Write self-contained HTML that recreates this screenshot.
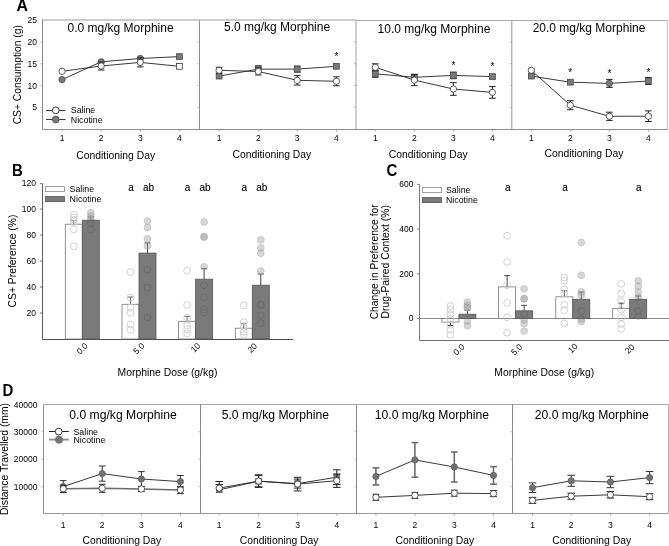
<!DOCTYPE html>
<html><head><meta charset="utf-8"><style>
html,body{margin:0;padding:0;background:#fff;width:669px;height:546px;overflow:hidden}
svg{display:block;will-change:transform}
text{font-family:"Liberation Sans", sans-serif}
</style></head><body>
<svg width="669" height="546" viewBox="0 0 669 546" font-family='"Liberation Sans", sans-serif'>
<rect width="669" height="546" fill="#fff"/>
<line x1="42.00" y1="20.00" x2="356.00" y2="20.00" stroke="#9a9a9a" stroke-width="1" />
<line x1="356.00" y1="20.50" x2="668.00" y2="20.50" stroke="#ababab" stroke-width="1" />
<line x1="42.50" y1="129.50" x2="668.00" y2="129.50" stroke="#8e8e8e" stroke-width="1" />
<line x1="42.50" y1="19.50" x2="42.50" y2="129.50" stroke="#858585" stroke-width="1" />
<line x1="199.50" y1="20.50" x2="199.50" y2="129.50" stroke="#8c8c8c" stroke-width="1" />
<line x1="356.00" y1="20.50" x2="356.00" y2="129.50" stroke="#a8a8a8" stroke-width="1.1" />
<line x1="511.80" y1="20.50" x2="511.80" y2="129.50" stroke="#9c9c9c" stroke-width="1.1" />
<line x1="667.50" y1="20.00" x2="667.50" y2="129.50" stroke="#cacaca" stroke-width="1.2" />
<line x1="40.50" y1="107.25" x2="42.50" y2="107.25" stroke="#aaa" stroke-width="0.8" />
<line x1="40.50" y1="85.50" x2="42.50" y2="85.50" stroke="#aaa" stroke-width="0.8" />
<line x1="40.50" y1="63.75" x2="42.50" y2="63.75" stroke="#aaa" stroke-width="0.8" />
<line x1="40.50" y1="42.00" x2="42.50" y2="42.00" stroke="#aaa" stroke-width="0.8" />
<line x1="197.50" y1="107.25" x2="199.50" y2="107.25" stroke="#aaa" stroke-width="0.8" />
<line x1="197.50" y1="85.50" x2="199.50" y2="85.50" stroke="#aaa" stroke-width="0.8" />
<line x1="197.50" y1="63.75" x2="199.50" y2="63.75" stroke="#aaa" stroke-width="0.8" />
<line x1="197.50" y1="42.00" x2="199.50" y2="42.00" stroke="#aaa" stroke-width="0.8" />
<line x1="354.00" y1="107.25" x2="356.00" y2="107.25" stroke="#aaa" stroke-width="0.8" />
<line x1="354.00" y1="85.50" x2="356.00" y2="85.50" stroke="#aaa" stroke-width="0.8" />
<line x1="354.00" y1="63.75" x2="356.00" y2="63.75" stroke="#aaa" stroke-width="0.8" />
<line x1="354.00" y1="42.00" x2="356.00" y2="42.00" stroke="#aaa" stroke-width="0.8" />
<line x1="509.80" y1="107.25" x2="511.80" y2="107.25" stroke="#aaa" stroke-width="0.8" />
<line x1="509.80" y1="85.50" x2="511.80" y2="85.50" stroke="#aaa" stroke-width="0.8" />
<line x1="509.80" y1="63.75" x2="511.80" y2="63.75" stroke="#aaa" stroke-width="0.8" />
<line x1="509.80" y1="42.00" x2="511.80" y2="42.00" stroke="#aaa" stroke-width="0.8" />
<line x1="62.00" y1="129.50" x2="62.00" y2="131.50" stroke="#8a8a8a" stroke-width="0.8" />
<text x="62.00" y="141.20" font-size="8.5" text-anchor="middle" font-weight="normal" fill="#000" >1</text>
<line x1="101.20" y1="129.50" x2="101.20" y2="131.50" stroke="#8a8a8a" stroke-width="0.8" />
<text x="101.20" y="141.20" font-size="8.5" text-anchor="middle" font-weight="normal" fill="#000" >2</text>
<line x1="140.30" y1="129.50" x2="140.30" y2="131.50" stroke="#8a8a8a" stroke-width="0.8" />
<text x="140.30" y="141.20" font-size="8.5" text-anchor="middle" font-weight="normal" fill="#000" >3</text>
<line x1="179.40" y1="129.50" x2="179.40" y2="131.50" stroke="#8a8a8a" stroke-width="0.8" />
<text x="179.40" y="141.20" font-size="8.5" text-anchor="middle" font-weight="normal" fill="#000" >4</text>
<text x="115.70" y="158.70" font-size="10.35" text-anchor="middle" font-weight="normal" fill="#000" >Conditioning Day</text>
<text x="120.60" y="31.80" font-size="12" text-anchor="middle" font-weight="normal" fill="#000" >0.0 mg/kg Morphine</text>
<line x1="219.10" y1="129.50" x2="219.10" y2="131.50" stroke="#8a8a8a" stroke-width="0.8" />
<text x="219.10" y="141.20" font-size="8.5" text-anchor="middle" font-weight="normal" fill="#000" >1</text>
<line x1="258.30" y1="129.50" x2="258.30" y2="131.50" stroke="#8a8a8a" stroke-width="0.8" />
<text x="258.30" y="141.20" font-size="8.5" text-anchor="middle" font-weight="normal" fill="#000" >2</text>
<line x1="297.20" y1="129.50" x2="297.20" y2="131.50" stroke="#8a8a8a" stroke-width="0.8" />
<text x="297.20" y="141.20" font-size="8.5" text-anchor="middle" font-weight="normal" fill="#000" >3</text>
<line x1="336.40" y1="129.50" x2="336.40" y2="131.50" stroke="#8a8a8a" stroke-width="0.8" />
<text x="336.40" y="141.20" font-size="8.5" text-anchor="middle" font-weight="normal" fill="#000" >4</text>
<text x="271.85" y="157.70" font-size="10.35" text-anchor="middle" font-weight="normal" fill="#000" >Conditioning Day</text>
<text x="277.05" y="31.30" font-size="12" text-anchor="middle" font-weight="normal" fill="#000" >5.0 mg/kg Morphine</text>
<line x1="375.30" y1="129.50" x2="375.30" y2="131.50" stroke="#8a8a8a" stroke-width="0.8" />
<text x="375.30" y="141.20" font-size="8.5" text-anchor="middle" font-weight="normal" fill="#000" >1</text>
<line x1="414.30" y1="129.50" x2="414.30" y2="131.50" stroke="#8a8a8a" stroke-width="0.8" />
<text x="414.30" y="141.20" font-size="8.5" text-anchor="middle" font-weight="normal" fill="#000" >2</text>
<line x1="453.40" y1="129.50" x2="453.40" y2="131.50" stroke="#8a8a8a" stroke-width="0.8" />
<text x="453.40" y="141.20" font-size="8.5" text-anchor="middle" font-weight="normal" fill="#000" >3</text>
<line x1="492.40" y1="129.50" x2="492.40" y2="131.50" stroke="#8a8a8a" stroke-width="0.8" />
<text x="492.40" y="141.20" font-size="8.5" text-anchor="middle" font-weight="normal" fill="#000" >4</text>
<text x="428.25" y="157.80" font-size="10.35" text-anchor="middle" font-weight="normal" fill="#000" >Conditioning Day</text>
<text x="433.95" y="32.60" font-size="12" text-anchor="middle" font-weight="normal" fill="#000" >10.0 mg/kg Morphine</text>
<line x1="531.30" y1="129.50" x2="531.30" y2="131.50" stroke="#8a8a8a" stroke-width="0.8" />
<text x="531.30" y="141.20" font-size="8.5" text-anchor="middle" font-weight="normal" fill="#000" >1</text>
<line x1="570.30" y1="129.50" x2="570.30" y2="131.50" stroke="#8a8a8a" stroke-width="0.8" />
<text x="570.30" y="141.20" font-size="8.5" text-anchor="middle" font-weight="normal" fill="#000" >2</text>
<line x1="609.40" y1="129.50" x2="609.40" y2="131.50" stroke="#8a8a8a" stroke-width="0.8" />
<text x="609.40" y="141.20" font-size="8.5" text-anchor="middle" font-weight="normal" fill="#000" >3</text>
<line x1="648.40" y1="129.50" x2="648.40" y2="131.50" stroke="#8a8a8a" stroke-width="0.8" />
<text x="648.40" y="141.20" font-size="8.5" text-anchor="middle" font-weight="normal" fill="#000" >4</text>
<text x="583.95" y="157.10" font-size="10.35" text-anchor="middle" font-weight="normal" fill="#000" >Conditioning Day</text>
<text x="589.05" y="32.10" font-size="12" text-anchor="middle" font-weight="normal" fill="#000" >20.0 mg/kg Morphine</text>
<text x="37.00" y="23.35" font-size="8.5" text-anchor="end" font-weight="normal" fill="#000" >25</text>
<text x="37.00" y="45.10" font-size="8.5" text-anchor="end" font-weight="normal" fill="#000" >20</text>
<text x="37.00" y="66.85" font-size="8.5" text-anchor="end" font-weight="normal" fill="#000" >15</text>
<text x="37.00" y="88.60" font-size="8.5" text-anchor="end" font-weight="normal" fill="#000" >10</text>
<text x="37.00" y="110.35" font-size="8.5" text-anchor="end" font-weight="normal" fill="#000" >5</text>
<text x="21.30" y="74.70" font-size="10.3" text-anchor="middle" font-weight="normal" fill="#000" transform="rotate(-90 21.3 74.7)">CS+ Consumption (g)</text>
<text transform="translate(16.5,10.7) scale(0.96,1)" font-size="16.5" font-weight="bold" fill="#000">A</text>
<polyline points="62.00,79.60 101.20,61.80 140.30,58.50 179.40,56.60" fill="none" stroke="#222" stroke-width="0.9"/>
<circle cx="62.00" cy="79.60" r="3.15" fill="#7a7a7a" stroke="#4a4a4a" stroke-width="0.8" />
<circle cx="101.20" cy="61.80" r="3.15" fill="#7a7a7a" stroke="#4a4a4a" stroke-width="0.8" />
<circle cx="140.30" cy="58.50" r="3.15" fill="#7a7a7a" stroke="#4a4a4a" stroke-width="0.8" />
<rect x="176.50" y="53.70" width="5.80" height="5.80" fill="#7a7a7a" stroke="#4a4a4a" stroke-width="0.8"/>
<polyline points="62.00,71.30 101.20,66.00 140.30,62.40 179.40,66.30" fill="none" stroke="#222" stroke-width="0.9"/>
<line x1="101.20" y1="62.00" x2="101.20" y2="66.00" stroke="#222" stroke-width="1.0" />
<line x1="97.90" y1="62.00" x2="104.50" y2="62.00" stroke="#222" stroke-width="1.0" />
<line x1="101.20" y1="66.00" x2="101.20" y2="70.00" stroke="#222" stroke-width="1.0" />
<line x1="97.90" y1="70.00" x2="104.50" y2="70.00" stroke="#222" stroke-width="1.0" />
<line x1="140.30" y1="57.90" x2="140.30" y2="62.40" stroke="#222" stroke-width="1.0" />
<line x1="137.00" y1="57.90" x2="143.60" y2="57.90" stroke="#222" stroke-width="1.0" />
<line x1="140.30" y1="62.40" x2="140.30" y2="66.90" stroke="#222" stroke-width="1.0" />
<line x1="137.00" y1="66.90" x2="143.60" y2="66.90" stroke="#222" stroke-width="1.0" />
<circle cx="62.00" cy="71.30" r="3.15" fill="#fff" stroke="#2a2a2a" stroke-width="0.75" />
<circle cx="101.20" cy="66.00" r="3.15" fill="#fff" stroke="#2a2a2a" stroke-width="0.75" />
<circle cx="140.30" cy="62.40" r="3.15" fill="#fff" stroke="#2a2a2a" stroke-width="0.75" />
<rect x="176.50" y="63.40" width="5.80" height="5.80" fill="#fff" stroke="#2a2a2a" stroke-width="0.75"/>
<polyline points="219.10,76.10 258.30,69.10 297.20,69.10 336.40,66.30" fill="none" stroke="#222" stroke-width="0.9"/>
<line x1="258.30" y1="65.80" x2="258.30" y2="69.10" stroke="#222" stroke-width="1.0" />
<line x1="255.00" y1="65.80" x2="261.60" y2="65.80" stroke="#222" stroke-width="1.0" />
<line x1="258.30" y1="69.10" x2="258.30" y2="72.40" stroke="#222" stroke-width="1.0" />
<line x1="255.00" y1="72.40" x2="261.60" y2="72.40" stroke="#222" stroke-width="1.0" />
<line x1="297.20" y1="66.10" x2="297.20" y2="69.10" stroke="#222" stroke-width="1.0" />
<line x1="293.90" y1="66.10" x2="300.50" y2="66.10" stroke="#222" stroke-width="1.0" />
<line x1="297.20" y1="69.10" x2="297.20" y2="72.10" stroke="#222" stroke-width="1.0" />
<line x1="293.90" y1="72.10" x2="300.50" y2="72.10" stroke="#222" stroke-width="1.0" />
<rect x="216.20" y="73.20" width="5.80" height="5.80" fill="#7a7a7a" stroke="#4a4a4a" stroke-width="0.8"/>
<rect x="255.40" y="66.20" width="5.80" height="5.80" fill="#7a7a7a" stroke="#4a4a4a" stroke-width="0.8"/>
<rect x="294.30" y="66.20" width="5.80" height="5.80" fill="#7a7a7a" stroke="#4a4a4a" stroke-width="0.8"/>
<rect x="333.50" y="63.40" width="5.80" height="5.80" fill="#7a7a7a" stroke="#4a4a4a" stroke-width="0.8"/>
<polyline points="219.10,70.30 258.30,71.50 297.20,80.30 336.40,81.30" fill="none" stroke="#222" stroke-width="0.9"/>
<line x1="219.10" y1="67.30" x2="219.10" y2="70.30" stroke="#222" stroke-width="1.0" />
<line x1="215.80" y1="67.30" x2="222.40" y2="67.30" stroke="#222" stroke-width="1.0" />
<line x1="219.10" y1="70.30" x2="219.10" y2="73.30" stroke="#222" stroke-width="1.0" />
<line x1="215.80" y1="73.30" x2="222.40" y2="73.30" stroke="#222" stroke-width="1.0" />
<line x1="258.30" y1="68.00" x2="258.30" y2="71.50" stroke="#222" stroke-width="1.0" />
<line x1="255.00" y1="68.00" x2="261.60" y2="68.00" stroke="#222" stroke-width="1.0" />
<line x1="258.30" y1="71.50" x2="258.30" y2="75.00" stroke="#222" stroke-width="1.0" />
<line x1="255.00" y1="75.00" x2="261.60" y2="75.00" stroke="#222" stroke-width="1.0" />
<line x1="297.20" y1="75.60" x2="297.20" y2="80.30" stroke="#222" stroke-width="1.0" />
<line x1="293.90" y1="75.60" x2="300.50" y2="75.60" stroke="#222" stroke-width="1.0" />
<line x1="297.20" y1="80.30" x2="297.20" y2="85.00" stroke="#222" stroke-width="1.0" />
<line x1="293.90" y1="85.00" x2="300.50" y2="85.00" stroke="#222" stroke-width="1.0" />
<line x1="336.40" y1="76.80" x2="336.40" y2="81.30" stroke="#222" stroke-width="1.0" />
<line x1="333.10" y1="76.80" x2="339.70" y2="76.80" stroke="#222" stroke-width="1.0" />
<line x1="336.40" y1="81.30" x2="336.40" y2="85.80" stroke="#222" stroke-width="1.0" />
<line x1="333.10" y1="85.80" x2="339.70" y2="85.80" stroke="#222" stroke-width="1.0" />
<circle cx="219.10" cy="70.30" r="3.15" fill="#fff" stroke="#2a2a2a" stroke-width="0.75" />
<circle cx="258.30" cy="71.50" r="3.15" fill="#fff" stroke="#2a2a2a" stroke-width="0.75" />
<circle cx="297.20" cy="80.30" r="3.15" fill="#fff" stroke="#2a2a2a" stroke-width="0.75" />
<circle cx="336.40" cy="81.30" r="3.15" fill="#fff" stroke="#2a2a2a" stroke-width="0.75" />
<polyline points="375.30,73.80 414.30,77.30 453.40,75.40 492.40,76.60" fill="none" stroke="#222" stroke-width="0.9"/>
<line x1="375.30" y1="70.30" x2="375.30" y2="73.80" stroke="#222" stroke-width="1.0" />
<line x1="372.00" y1="70.30" x2="378.60" y2="70.30" stroke="#222" stroke-width="1.0" />
<line x1="375.30" y1="73.80" x2="375.30" y2="77.30" stroke="#222" stroke-width="1.0" />
<line x1="372.00" y1="77.30" x2="378.60" y2="77.30" stroke="#222" stroke-width="1.0" />
<line x1="414.30" y1="74.30" x2="414.30" y2="77.30" stroke="#222" stroke-width="1.0" />
<line x1="411.00" y1="74.30" x2="417.60" y2="74.30" stroke="#222" stroke-width="1.0" />
<line x1="414.30" y1="77.30" x2="414.30" y2="80.30" stroke="#222" stroke-width="1.0" />
<line x1="411.00" y1="80.30" x2="417.60" y2="80.30" stroke="#222" stroke-width="1.0" />
<line x1="453.40" y1="72.10" x2="453.40" y2="75.40" stroke="#222" stroke-width="1.0" />
<line x1="450.10" y1="72.10" x2="456.70" y2="72.10" stroke="#222" stroke-width="1.0" />
<line x1="453.40" y1="75.40" x2="453.40" y2="78.70" stroke="#222" stroke-width="1.0" />
<line x1="450.10" y1="78.70" x2="456.70" y2="78.70" stroke="#222" stroke-width="1.0" />
<line x1="492.40" y1="74.60" x2="492.40" y2="76.60" stroke="#222" stroke-width="1.0" />
<line x1="489.10" y1="74.60" x2="495.70" y2="74.60" stroke="#222" stroke-width="1.0" />
<line x1="492.40" y1="76.60" x2="492.40" y2="78.60" stroke="#222" stroke-width="1.0" />
<line x1="489.10" y1="78.60" x2="495.70" y2="78.60" stroke="#222" stroke-width="1.0" />
<rect x="372.40" y="70.90" width="5.80" height="5.80" fill="#7a7a7a" stroke="#4a4a4a" stroke-width="0.8"/>
<rect x="411.40" y="74.40" width="5.80" height="5.80" fill="#7a7a7a" stroke="#4a4a4a" stroke-width="0.8"/>
<rect x="450.50" y="72.50" width="5.80" height="5.80" fill="#7a7a7a" stroke="#4a4a4a" stroke-width="0.8"/>
<rect x="489.50" y="73.70" width="5.80" height="5.80" fill="#7a7a7a" stroke="#4a4a4a" stroke-width="0.8"/>
<polyline points="375.30,67.30 414.30,80.10 453.40,89.00 492.40,92.40" fill="none" stroke="#222" stroke-width="0.9"/>
<line x1="375.30" y1="63.80" x2="375.30" y2="67.30" stroke="#222" stroke-width="1.0" />
<line x1="372.00" y1="63.80" x2="378.60" y2="63.80" stroke="#222" stroke-width="1.0" />
<line x1="375.30" y1="67.30" x2="375.30" y2="70.80" stroke="#222" stroke-width="1.0" />
<line x1="372.00" y1="70.80" x2="378.60" y2="70.80" stroke="#222" stroke-width="1.0" />
<line x1="414.30" y1="74.60" x2="414.30" y2="80.10" stroke="#222" stroke-width="1.0" />
<line x1="411.00" y1="74.60" x2="417.60" y2="74.60" stroke="#222" stroke-width="1.0" />
<line x1="414.30" y1="80.10" x2="414.30" y2="85.60" stroke="#222" stroke-width="1.0" />
<line x1="411.00" y1="85.60" x2="417.60" y2="85.60" stroke="#222" stroke-width="1.0" />
<line x1="453.40" y1="82.70" x2="453.40" y2="89.00" stroke="#222" stroke-width="1.0" />
<line x1="450.10" y1="82.70" x2="456.70" y2="82.70" stroke="#222" stroke-width="1.0" />
<line x1="453.40" y1="89.00" x2="453.40" y2="95.30" stroke="#222" stroke-width="1.0" />
<line x1="450.10" y1="95.30" x2="456.70" y2="95.30" stroke="#222" stroke-width="1.0" />
<line x1="492.40" y1="86.60" x2="492.40" y2="92.40" stroke="#222" stroke-width="1.0" />
<line x1="489.10" y1="86.60" x2="495.70" y2="86.60" stroke="#222" stroke-width="1.0" />
<line x1="492.40" y1="92.40" x2="492.40" y2="98.20" stroke="#222" stroke-width="1.0" />
<line x1="489.10" y1="98.20" x2="495.70" y2="98.20" stroke="#222" stroke-width="1.0" />
<circle cx="375.30" cy="67.30" r="3.15" fill="#fff" stroke="#2a2a2a" stroke-width="0.75" />
<circle cx="414.30" cy="80.10" r="3.15" fill="#fff" stroke="#2a2a2a" stroke-width="0.75" />
<circle cx="453.40" cy="89.00" r="3.15" fill="#fff" stroke="#2a2a2a" stroke-width="0.75" />
<circle cx="492.40" cy="92.40" r="3.15" fill="#fff" stroke="#2a2a2a" stroke-width="0.75" />
<polyline points="531.30,76.10 570.30,82.20 609.40,83.40 648.40,81.00" fill="none" stroke="#222" stroke-width="0.9"/>
<line x1="531.30" y1="74.60" x2="531.30" y2="76.10" stroke="#222" stroke-width="1.0" />
<line x1="528.00" y1="74.60" x2="534.60" y2="74.60" stroke="#222" stroke-width="1.0" />
<line x1="531.30" y1="76.10" x2="531.30" y2="77.60" stroke="#222" stroke-width="1.0" />
<line x1="528.00" y1="77.60" x2="534.60" y2="77.60" stroke="#222" stroke-width="1.0" />
<line x1="570.30" y1="80.20" x2="570.30" y2="82.20" stroke="#222" stroke-width="1.0" />
<line x1="567.00" y1="80.20" x2="573.60" y2="80.20" stroke="#222" stroke-width="1.0" />
<line x1="570.30" y1="82.20" x2="570.30" y2="84.20" stroke="#222" stroke-width="1.0" />
<line x1="567.00" y1="84.20" x2="573.60" y2="84.20" stroke="#222" stroke-width="1.0" />
<line x1="609.40" y1="79.40" x2="609.40" y2="83.40" stroke="#222" stroke-width="1.0" />
<line x1="606.10" y1="79.40" x2="612.70" y2="79.40" stroke="#222" stroke-width="1.0" />
<line x1="609.40" y1="83.40" x2="609.40" y2="87.40" stroke="#222" stroke-width="1.0" />
<line x1="606.10" y1="87.40" x2="612.70" y2="87.40" stroke="#222" stroke-width="1.0" />
<line x1="648.40" y1="77.50" x2="648.40" y2="81.00" stroke="#222" stroke-width="1.0" />
<line x1="645.10" y1="77.50" x2="651.70" y2="77.50" stroke="#222" stroke-width="1.0" />
<line x1="648.40" y1="81.00" x2="648.40" y2="84.50" stroke="#222" stroke-width="1.0" />
<line x1="645.10" y1="84.50" x2="651.70" y2="84.50" stroke="#222" stroke-width="1.0" />
<rect x="528.40" y="73.20" width="5.80" height="5.80" fill="#7a7a7a" stroke="#4a4a4a" stroke-width="0.8"/>
<rect x="567.40" y="79.30" width="5.80" height="5.80" fill="#7a7a7a" stroke="#4a4a4a" stroke-width="0.8"/>
<circle cx="609.40" cy="83.40" r="3.15" fill="#7a7a7a" stroke="#4a4a4a" stroke-width="0.8" />
<rect x="645.50" y="78.10" width="5.80" height="5.80" fill="#7a7a7a" stroke="#4a4a4a" stroke-width="0.8"/>
<polyline points="531.30,70.30 570.30,105.20 609.40,116.30 648.40,116.20" fill="none" stroke="#222" stroke-width="0.9"/>
<line x1="531.30" y1="69.30" x2="531.30" y2="70.30" stroke="#222" stroke-width="1.0" />
<line x1="528.00" y1="69.30" x2="534.60" y2="69.30" stroke="#222" stroke-width="1.0" />
<line x1="531.30" y1="70.30" x2="531.30" y2="71.30" stroke="#222" stroke-width="1.0" />
<line x1="528.00" y1="71.30" x2="534.60" y2="71.30" stroke="#222" stroke-width="1.0" />
<line x1="570.30" y1="100.70" x2="570.30" y2="105.20" stroke="#222" stroke-width="1.0" />
<line x1="567.00" y1="100.70" x2="573.60" y2="100.70" stroke="#222" stroke-width="1.0" />
<line x1="570.30" y1="105.20" x2="570.30" y2="109.70" stroke="#222" stroke-width="1.0" />
<line x1="567.00" y1="109.70" x2="573.60" y2="109.70" stroke="#222" stroke-width="1.0" />
<line x1="609.40" y1="112.20" x2="609.40" y2="116.30" stroke="#222" stroke-width="1.0" />
<line x1="606.10" y1="112.20" x2="612.70" y2="112.20" stroke="#222" stroke-width="1.0" />
<line x1="609.40" y1="116.30" x2="609.40" y2="120.40" stroke="#222" stroke-width="1.0" />
<line x1="606.10" y1="120.40" x2="612.70" y2="120.40" stroke="#222" stroke-width="1.0" />
<line x1="648.40" y1="110.90" x2="648.40" y2="116.20" stroke="#222" stroke-width="1.0" />
<line x1="645.10" y1="110.90" x2="651.70" y2="110.90" stroke="#222" stroke-width="1.0" />
<line x1="648.40" y1="116.20" x2="648.40" y2="121.50" stroke="#222" stroke-width="1.0" />
<line x1="645.10" y1="121.50" x2="651.70" y2="121.50" stroke="#222" stroke-width="1.0" />
<circle cx="531.30" cy="70.30" r="3.15" fill="#fff" stroke="#2a2a2a" stroke-width="0.75" />
<circle cx="570.30" cy="105.20" r="3.15" fill="#fff" stroke="#2a2a2a" stroke-width="0.75" />
<circle cx="609.40" cy="116.30" r="3.15" fill="#fff" stroke="#2a2a2a" stroke-width="0.75" />
<circle cx="648.40" cy="116.20" r="3.15" fill="#fff" stroke="#2a2a2a" stroke-width="0.75" />
<text x="336.40" y="60.00" font-size="10" text-anchor="middle" font-weight="normal" fill="#000" >*</text>
<text x="453.40" y="68.60" font-size="10" text-anchor="middle" font-weight="normal" fill="#000" >*</text>
<text x="492.40" y="70.00" font-size="10" text-anchor="middle" font-weight="normal" fill="#000" >*</text>
<text x="570.30" y="75.80" font-size="10" text-anchor="middle" font-weight="normal" fill="#000" >*</text>
<text x="609.40" y="77.00" font-size="10" text-anchor="middle" font-weight="normal" fill="#000" >*</text>
<text x="648.40" y="75.60" font-size="10" text-anchor="middle" font-weight="normal" fill="#000" >*</text>
<line x1="46.00" y1="110.50" x2="65.50" y2="110.50" stroke="#222" stroke-width="0.9" />
<circle cx="55.80" cy="110.30" r="3.4" fill="#fff" stroke="#222" stroke-width="0.9" />
<line x1="46.00" y1="119.50" x2="65.50" y2="119.50" stroke="#222" stroke-width="0.9" />
<circle cx="55.80" cy="119.50" r="3.4" fill="#7a7a7a" stroke="#4a4a4a" stroke-width="0.8" />
<text x="70.80" y="113.30" font-size="8.8" text-anchor="start" font-weight="normal" fill="#000" >Saline</text>
<text x="70.80" y="122.80" font-size="8.8" text-anchor="start" font-weight="normal" fill="#000" >Nicotine</text>
<line x1="42.50" y1="183.50" x2="42.50" y2="339.50" stroke="#5e5e5e" stroke-width="1" />
<line x1="42.50" y1="339.50" x2="293.00" y2="339.50" stroke="#4e4e4e" stroke-width="1" />
<line x1="40.00" y1="313.02" x2="42.50" y2="313.02" stroke="#666" stroke-width="0.9" />
<text x="36.00" y="316.12" font-size="8.5" text-anchor="end" font-weight="normal" fill="#000" >20</text>
<line x1="40.00" y1="287.03" x2="42.50" y2="287.03" stroke="#666" stroke-width="0.9" />
<text x="36.00" y="290.13" font-size="8.5" text-anchor="end" font-weight="normal" fill="#000" >40</text>
<line x1="40.00" y1="261.05" x2="42.50" y2="261.05" stroke="#666" stroke-width="0.9" />
<text x="36.00" y="264.15" font-size="8.5" text-anchor="end" font-weight="normal" fill="#000" >60</text>
<line x1="40.00" y1="235.06" x2="42.50" y2="235.06" stroke="#666" stroke-width="0.9" />
<text x="36.00" y="238.16" font-size="8.5" text-anchor="end" font-weight="normal" fill="#000" >80</text>
<line x1="40.00" y1="209.08" x2="42.50" y2="209.08" stroke="#666" stroke-width="0.9" />
<text x="36.00" y="212.18" font-size="8.5" text-anchor="end" font-weight="normal" fill="#000" >100</text>
<line x1="40.00" y1="183.60" x2="42.50" y2="183.60" stroke="#666" stroke-width="0.9" />
<text x="36.00" y="186.20" font-size="8.5" text-anchor="end" font-weight="normal" fill="#000" >120</text>
<text x="16.30" y="261.00" font-size="10.35" text-anchor="middle" font-weight="normal" fill="#000" transform="rotate(-90 16.3 261)">CS+ Preference (%)</text>
<text transform="translate(12.0,175.5) scale(0.909,1)" font-size="16.5" font-weight="bold" fill="#000">B</text>
<line x1="73.80" y1="224.20" x2="73.80" y2="220.50" stroke="#6a6a6a" stroke-width="1" />
<line x1="70.80" y1="220.50" x2="76.80" y2="220.50" stroke="#6a6a6a" stroke-width="1" />
<rect x="65.30" y="224.20" width="17.00" height="114.80" fill="#fff" stroke="#777" stroke-width="0.8"/>
<line x1="90.80" y1="220.20" x2="90.80" y2="217.00" stroke="#444" stroke-width="1" />
<line x1="87.80" y1="217.00" x2="93.80" y2="217.00" stroke="#444" stroke-width="1" />
<circle cx="90.80" cy="212.80" r="3.5" fill="#a4a4a4" stroke="#9a9a9a" stroke-width="0.6" fill-opacity="0.45" stroke-opacity="0.5"/>
<circle cx="90.80" cy="216.00" r="3.5" fill="#a4a4a4" stroke="#9a9a9a" stroke-width="0.6" fill-opacity="0.45" stroke-opacity="0.5"/>
<circle cx="90.80" cy="218.70" r="3.5" fill="#a4a4a4" stroke="#9a9a9a" stroke-width="0.6" fill-opacity="0.45" stroke-opacity="0.5"/>
<circle cx="90.80" cy="222.90" r="3.5" fill="#a4a4a4" stroke="#9a9a9a" stroke-width="0.6" fill-opacity="0.45" stroke-opacity="0.5"/>
<circle cx="90.80" cy="229.70" r="3.5" fill="#a4a4a4" stroke="#9a9a9a" stroke-width="0.6" fill-opacity="0.45" stroke-opacity="0.5"/>
<rect x="82.30" y="220.20" width="17.00" height="118.80" fill="#7a7a7a" stroke="#555" stroke-width="0.8"/>
<clipPath id="cl1"><rect x="82.3" y="220.2" width="17" height="118.80000000000001"/></clipPath>
<g clip-path="url(#cl1)">
<circle cx="90.80" cy="212.80" r="3.4" fill="none" stroke="#6a6a6a" stroke-width="0.8" />
<circle cx="90.80" cy="216.00" r="3.4" fill="none" stroke="#6a6a6a" stroke-width="0.8" />
<circle cx="90.80" cy="218.70" r="3.4" fill="none" stroke="#6a6a6a" stroke-width="0.8" />
<circle cx="90.80" cy="222.90" r="3.4" fill="none" stroke="#6a6a6a" stroke-width="0.8" />
<circle cx="90.80" cy="229.70" r="3.4" fill="none" stroke="#6a6a6a" stroke-width="0.8" />
</g>
<circle cx="73.80" cy="214.60" r="3.4" fill="none" stroke="#cbcbcb" stroke-width="0.9" />
<circle cx="73.80" cy="217.40" r="3.4" fill="none" stroke="#cbcbcb" stroke-width="0.9" />
<circle cx="73.80" cy="219.70" r="3.4" fill="none" stroke="#cbcbcb" stroke-width="0.9" />
<circle cx="73.80" cy="222.00" r="3.4" fill="none" stroke="#cbcbcb" stroke-width="0.9" />
<circle cx="73.80" cy="229.30" r="3.4" fill="none" stroke="#cbcbcb" stroke-width="0.9" />
<circle cx="73.80" cy="246.20" r="3.4" fill="none" stroke="#cbcbcb" stroke-width="0.9" />
<text x="82.30" y="351.50" font-size="8.5" text-anchor="middle" font-weight="normal" fill="#000" transform="rotate(-45 82.3 348.7)">0.0</text>
<line x1="130.50" y1="304.30" x2="130.50" y2="297.00" stroke="#6a6a6a" stroke-width="1" />
<line x1="127.50" y1="297.00" x2="133.50" y2="297.00" stroke="#6a6a6a" stroke-width="1" />
<rect x="122.00" y="304.30" width="17.00" height="34.70" fill="#fff" stroke="#777" stroke-width="0.8"/>
<line x1="147.50" y1="253.10" x2="147.50" y2="242.90" stroke="#444" stroke-width="1" />
<line x1="144.50" y1="242.90" x2="150.50" y2="242.90" stroke="#444" stroke-width="1" />
<circle cx="147.50" cy="221.00" r="3.5" fill="#a4a4a4" stroke="#9a9a9a" stroke-width="0.6" fill-opacity="0.45" stroke-opacity="0.5"/>
<circle cx="147.50" cy="227.40" r="3.5" fill="#a4a4a4" stroke="#9a9a9a" stroke-width="0.6" fill-opacity="0.45" stroke-opacity="0.5"/>
<circle cx="147.50" cy="238.80" r="3.5" fill="#a4a4a4" stroke="#9a9a9a" stroke-width="0.6" fill-opacity="0.45" stroke-opacity="0.5"/>
<circle cx="147.50" cy="246.00" r="3.5" fill="#a4a4a4" stroke="#9a9a9a" stroke-width="0.6" fill-opacity="0.45" stroke-opacity="0.5"/>
<circle cx="147.50" cy="269.80" r="3.5" fill="#a4a4a4" stroke="#9a9a9a" stroke-width="0.6" fill-opacity="0.45" stroke-opacity="0.5"/>
<circle cx="147.50" cy="287.60" r="3.5" fill="#a4a4a4" stroke="#9a9a9a" stroke-width="0.6" fill-opacity="0.45" stroke-opacity="0.5"/>
<circle cx="147.50" cy="317.40" r="3.5" fill="#a4a4a4" stroke="#9a9a9a" stroke-width="0.6" fill-opacity="0.45" stroke-opacity="0.5"/>
<rect x="139.00" y="253.10" width="17.00" height="85.90" fill="#7a7a7a" stroke="#555" stroke-width="0.8"/>
<clipPath id="cl2"><rect x="139" y="253.1" width="17" height="85.9"/></clipPath>
<g clip-path="url(#cl2)">
<circle cx="147.50" cy="221.00" r="3.4" fill="none" stroke="#6a6a6a" stroke-width="0.8" />
<circle cx="147.50" cy="227.40" r="3.4" fill="none" stroke="#6a6a6a" stroke-width="0.8" />
<circle cx="147.50" cy="238.80" r="3.4" fill="none" stroke="#6a6a6a" stroke-width="0.8" />
<circle cx="147.50" cy="246.00" r="3.4" fill="none" stroke="#6a6a6a" stroke-width="0.8" />
<circle cx="147.50" cy="269.80" r="3.4" fill="none" stroke="#6a6a6a" stroke-width="0.8" />
<circle cx="147.50" cy="287.60" r="3.4" fill="none" stroke="#6a6a6a" stroke-width="0.8" />
<circle cx="147.50" cy="317.40" r="3.4" fill="none" stroke="#6a6a6a" stroke-width="0.8" />
</g>
<circle cx="130.50" cy="272.10" r="3.4" fill="none" stroke="#cbcbcb" stroke-width="0.9" />
<circle cx="130.50" cy="297.50" r="3.4" fill="none" stroke="#cbcbcb" stroke-width="0.9" />
<circle cx="130.50" cy="307.60" r="3.4" fill="none" stroke="#cbcbcb" stroke-width="0.9" />
<circle cx="130.50" cy="312.80" r="3.4" fill="none" stroke="#cbcbcb" stroke-width="0.9" />
<circle cx="130.50" cy="324.50" r="3.4" fill="none" stroke="#cbcbcb" stroke-width="0.9" />
<circle cx="130.50" cy="329.80" r="3.4" fill="none" stroke="#cbcbcb" stroke-width="0.9" />
<text x="131.00" y="191.00" font-size="10" text-anchor="middle" font-weight="normal" fill="#000" stroke="#000" stroke-width="0.12">a</text>
<text x="148.50" y="191.00" font-size="10" text-anchor="middle" font-weight="normal" fill="#000" stroke="#000" stroke-width="0.12">ab</text>
<text x="139.00" y="351.50" font-size="8.5" text-anchor="middle" font-weight="normal" fill="#000" transform="rotate(-45 139 348.7)">5.0</text>
<line x1="187.10" y1="321.30" x2="187.10" y2="316.30" stroke="#6a6a6a" stroke-width="1" />
<line x1="184.10" y1="316.30" x2="190.10" y2="316.30" stroke="#6a6a6a" stroke-width="1" />
<rect x="178.60" y="321.30" width="17.00" height="17.70" fill="#fff" stroke="#777" stroke-width="0.8"/>
<line x1="204.10" y1="279.20" x2="204.10" y2="268.60" stroke="#444" stroke-width="1" />
<line x1="201.10" y1="268.60" x2="207.10" y2="268.60" stroke="#444" stroke-width="1" />
<circle cx="204.10" cy="221.90" r="3.5" fill="#a4a4a4" stroke="#9a9a9a" stroke-width="0.6" fill-opacity="0.45" stroke-opacity="0.5"/>
<circle cx="204.10" cy="236.60" r="3.5" fill="#a4a4a4" stroke="#9a9a9a" stroke-width="0.6" fill-opacity="0.45" stroke-opacity="0.5"/>
<circle cx="204.10" cy="237.20" r="3.5" fill="#a4a4a4" stroke="#9a9a9a" stroke-width="0.6" fill-opacity="0.45" stroke-opacity="0.5"/>
<circle cx="204.10" cy="266.70" r="3.5" fill="#a4a4a4" stroke="#9a9a9a" stroke-width="0.6" fill-opacity="0.45" stroke-opacity="0.5"/>
<circle cx="204.10" cy="285.30" r="3.5" fill="#a4a4a4" stroke="#9a9a9a" stroke-width="0.6" fill-opacity="0.45" stroke-opacity="0.5"/>
<circle cx="204.10" cy="297.40" r="3.5" fill="#a4a4a4" stroke="#9a9a9a" stroke-width="0.6" fill-opacity="0.45" stroke-opacity="0.5"/>
<circle cx="204.10" cy="309.30" r="3.5" fill="#a4a4a4" stroke="#9a9a9a" stroke-width="0.6" fill-opacity="0.45" stroke-opacity="0.5"/>
<circle cx="204.10" cy="312.50" r="3.5" fill="#a4a4a4" stroke="#9a9a9a" stroke-width="0.6" fill-opacity="0.45" stroke-opacity="0.5"/>
<rect x="195.60" y="279.20" width="17.00" height="59.80" fill="#7a7a7a" stroke="#555" stroke-width="0.8"/>
<clipPath id="cl3"><rect x="195.6" y="279.2" width="17" height="59.80000000000001"/></clipPath>
<g clip-path="url(#cl3)">
<circle cx="204.10" cy="221.90" r="3.4" fill="none" stroke="#6a6a6a" stroke-width="0.8" />
<circle cx="204.10" cy="236.60" r="3.4" fill="none" stroke="#6a6a6a" stroke-width="0.8" />
<circle cx="204.10" cy="237.20" r="3.4" fill="none" stroke="#6a6a6a" stroke-width="0.8" />
<circle cx="204.10" cy="266.70" r="3.4" fill="none" stroke="#6a6a6a" stroke-width="0.8" />
<circle cx="204.10" cy="285.30" r="3.4" fill="none" stroke="#6a6a6a" stroke-width="0.8" />
<circle cx="204.10" cy="297.40" r="3.4" fill="none" stroke="#6a6a6a" stroke-width="0.8" />
<circle cx="204.10" cy="309.30" r="3.4" fill="none" stroke="#6a6a6a" stroke-width="0.8" />
<circle cx="204.10" cy="312.50" r="3.4" fill="none" stroke="#6a6a6a" stroke-width="0.8" />
</g>
<circle cx="187.10" cy="270.50" r="3.4" fill="none" stroke="#cbcbcb" stroke-width="0.9" />
<circle cx="187.10" cy="305.00" r="3.4" fill="none" stroke="#cbcbcb" stroke-width="0.9" />
<circle cx="187.10" cy="317.80" r="3.4" fill="none" stroke="#cbcbcb" stroke-width="0.9" />
<circle cx="187.10" cy="325.50" r="3.4" fill="none" stroke="#cbcbcb" stroke-width="0.9" />
<circle cx="187.10" cy="329.50" r="3.4" fill="none" stroke="#cbcbcb" stroke-width="0.9" />
<circle cx="187.10" cy="333.50" r="3.4" fill="none" stroke="#cbcbcb" stroke-width="0.9" />
<text x="187.60" y="191.00" font-size="10" text-anchor="middle" font-weight="normal" fill="#000" stroke="#000" stroke-width="0.12">a</text>
<text x="205.10" y="191.00" font-size="10" text-anchor="middle" font-weight="normal" fill="#000" stroke="#000" stroke-width="0.12">ab</text>
<text x="195.60" y="350.50" font-size="8.5" text-anchor="middle" font-weight="normal" fill="#000" transform="rotate(-45 195.6 347.7)">10</text>
<line x1="243.80" y1="328.20" x2="243.80" y2="323.30" stroke="#6a6a6a" stroke-width="1" />
<line x1="240.80" y1="323.30" x2="246.80" y2="323.30" stroke="#6a6a6a" stroke-width="1" />
<rect x="235.30" y="328.20" width="17.00" height="10.80" fill="#fff" stroke="#777" stroke-width="0.8"/>
<line x1="260.80" y1="285.20" x2="260.80" y2="274.00" stroke="#444" stroke-width="1" />
<line x1="257.80" y1="274.00" x2="263.80" y2="274.00" stroke="#444" stroke-width="1" />
<circle cx="260.80" cy="239.80" r="3.5" fill="#a4a4a4" stroke="#9a9a9a" stroke-width="0.6" fill-opacity="0.45" stroke-opacity="0.5"/>
<circle cx="260.80" cy="247.80" r="3.5" fill="#a4a4a4" stroke="#9a9a9a" stroke-width="0.6" fill-opacity="0.45" stroke-opacity="0.5"/>
<circle cx="260.80" cy="253.30" r="3.5" fill="#a4a4a4" stroke="#9a9a9a" stroke-width="0.6" fill-opacity="0.45" stroke-opacity="0.5"/>
<circle cx="260.80" cy="270.90" r="3.5" fill="#a4a4a4" stroke="#9a9a9a" stroke-width="0.6" fill-opacity="0.45" stroke-opacity="0.5"/>
<circle cx="260.80" cy="304.30" r="3.5" fill="#a4a4a4" stroke="#9a9a9a" stroke-width="0.6" fill-opacity="0.45" stroke-opacity="0.5"/>
<circle cx="260.80" cy="305.50" r="3.5" fill="#a4a4a4" stroke="#9a9a9a" stroke-width="0.6" fill-opacity="0.45" stroke-opacity="0.5"/>
<circle cx="260.80" cy="315.60" r="3.5" fill="#a4a4a4" stroke="#9a9a9a" stroke-width="0.6" fill-opacity="0.45" stroke-opacity="0.5"/>
<circle cx="260.80" cy="323.10" r="3.5" fill="#a4a4a4" stroke="#9a9a9a" stroke-width="0.6" fill-opacity="0.45" stroke-opacity="0.5"/>
<rect x="252.30" y="285.20" width="17.00" height="53.80" fill="#7a7a7a" stroke="#555" stroke-width="0.8"/>
<clipPath id="cl4"><rect x="252.3" y="285.2" width="17" height="53.80000000000001"/></clipPath>
<g clip-path="url(#cl4)">
<circle cx="260.80" cy="239.80" r="3.4" fill="none" stroke="#6a6a6a" stroke-width="0.8" />
<circle cx="260.80" cy="247.80" r="3.4" fill="none" stroke="#6a6a6a" stroke-width="0.8" />
<circle cx="260.80" cy="253.30" r="3.4" fill="none" stroke="#6a6a6a" stroke-width="0.8" />
<circle cx="260.80" cy="270.90" r="3.4" fill="none" stroke="#6a6a6a" stroke-width="0.8" />
<circle cx="260.80" cy="304.30" r="3.4" fill="none" stroke="#6a6a6a" stroke-width="0.8" />
<circle cx="260.80" cy="305.50" r="3.4" fill="none" stroke="#6a6a6a" stroke-width="0.8" />
<circle cx="260.80" cy="315.60" r="3.4" fill="none" stroke="#6a6a6a" stroke-width="0.8" />
<circle cx="260.80" cy="323.10" r="3.4" fill="none" stroke="#6a6a6a" stroke-width="0.8" />
</g>
<circle cx="243.80" cy="305.40" r="3.4" fill="none" stroke="#cbcbcb" stroke-width="0.9" />
<circle cx="243.80" cy="322.10" r="3.4" fill="none" stroke="#cbcbcb" stroke-width="0.9" />
<circle cx="243.80" cy="326.90" r="3.4" fill="none" stroke="#cbcbcb" stroke-width="0.9" />
<circle cx="243.80" cy="331.70" r="3.4" fill="none" stroke="#cbcbcb" stroke-width="0.9" />
<circle cx="243.80" cy="334.90" r="3.4" fill="none" stroke="#cbcbcb" stroke-width="0.9" />
<text x="244.30" y="191.00" font-size="10" text-anchor="middle" font-weight="normal" fill="#000" stroke="#000" stroke-width="0.12">a</text>
<text x="261.80" y="191.00" font-size="10" text-anchor="middle" font-weight="normal" fill="#000" stroke="#000" stroke-width="0.12">ab</text>
<text x="252.30" y="350.80" font-size="8.5" text-anchor="middle" font-weight="normal" fill="#000" transform="rotate(-45 252.3 348.0)">20</text>
<text x="167.50" y="375.80" font-size="10.4" text-anchor="middle" font-weight="normal" fill="#000" >Morphine Dose (g/kg)</text>
<rect x="45.50" y="186.60" width="19.00" height="5.00" fill="#fff" stroke="#8a8a8a" stroke-width="0.8"/>
<rect x="45.50" y="196.60" width="19.00" height="5.00" fill="#7a7a7a" stroke="#555" stroke-width="0.8"/>
<text x="69.60" y="192.30" font-size="8.8" text-anchor="start" font-weight="normal" fill="#000" >Saline</text>
<text x="69.60" y="202.30" font-size="8.8" text-anchor="start" font-weight="normal" fill="#000" >Nicotine</text>
<line x1="419.50" y1="184.50" x2="419.50" y2="340.50" stroke="#7a7a7a" stroke-width="1" />
<line x1="419.50" y1="340.50" x2="669.00" y2="340.50" stroke="#6a6a6a" stroke-width="1" />
<line x1="419.50" y1="318.50" x2="669.00" y2="318.50" stroke="#8a8a8a" stroke-width="1" />
<line x1="417.00" y1="318.50" x2="419.50" y2="318.50" stroke="#777" stroke-width="0.9" />
<text x="413.50" y="321.20" font-size="8.5" text-anchor="end" font-weight="normal" fill="#000" >0</text>
<line x1="417.00" y1="273.80" x2="419.50" y2="273.80" stroke="#777" stroke-width="0.9" />
<text x="413.50" y="276.50" font-size="8.5" text-anchor="end" font-weight="normal" fill="#000" >200</text>
<line x1="417.00" y1="229.10" x2="419.50" y2="229.10" stroke="#777" stroke-width="0.9" />
<text x="413.50" y="231.80" font-size="8.5" text-anchor="end" font-weight="normal" fill="#000" >400</text>
<line x1="417.00" y1="184.40" x2="419.50" y2="184.40" stroke="#777" stroke-width="0.9" />
<text x="413.50" y="187.10" font-size="8.5" text-anchor="end" font-weight="normal" fill="#000" >600</text>
<text x="378.00" y="262.20" font-size="10.3" text-anchor="middle" font-weight="normal" fill="#000" transform="rotate(-90 378 261.8)">Change in Preference for</text>
<text x="389.50" y="261.80" font-size="10.35" text-anchor="middle" font-weight="normal" fill="#000" transform="rotate(-90 389.5 261.8)">Drug-Paired Context (%)</text>
<text transform="translate(386.5,176.3) scale(0.909,1)" font-size="16.5" font-weight="bold" fill="#000">C</text>
<line x1="450.40" y1="322.10" x2="450.40" y2="325.50" stroke="#444" stroke-width="1" />
<line x1="447.40" y1="325.50" x2="453.40" y2="325.50" stroke="#444" stroke-width="1" />
<rect x="441.90" y="318.50" width="17.00" height="3.60" fill="#fff" stroke="#777" stroke-width="0.8"/>
<line x1="467.40" y1="314.20" x2="467.40" y2="310.20" stroke="#444" stroke-width="1" />
<line x1="464.40" y1="310.20" x2="470.40" y2="310.20" stroke="#444" stroke-width="1" />
<circle cx="467.40" cy="302.10" r="3.5" fill="#a4a4a4" stroke="#9a9a9a" stroke-width="0.6" fill-opacity="0.45" stroke-opacity="0.5"/>
<circle cx="467.40" cy="305.10" r="3.5" fill="#a4a4a4" stroke="#9a9a9a" stroke-width="0.6" fill-opacity="0.45" stroke-opacity="0.5"/>
<circle cx="467.40" cy="307.60" r="3.5" fill="#a4a4a4" stroke="#9a9a9a" stroke-width="0.6" fill-opacity="0.45" stroke-opacity="0.5"/>
<circle cx="467.40" cy="307.60" r="3.5" fill="#a4a4a4" stroke="#9a9a9a" stroke-width="0.6" fill-opacity="0.45" stroke-opacity="0.5"/>
<circle cx="467.40" cy="321.20" r="3.5" fill="#a4a4a4" stroke="#9a9a9a" stroke-width="0.6" fill-opacity="0.45" stroke-opacity="0.5"/>
<circle cx="467.40" cy="325.80" r="3.5" fill="#a4a4a4" stroke="#9a9a9a" stroke-width="0.6" fill-opacity="0.45" stroke-opacity="0.5"/>
<rect x="458.90" y="314.20" width="17.00" height="4.30" fill="#7a7a7a" stroke="#555" stroke-width="0.8"/>
<clipPath id="cl5"><rect x="458.9" y="314.2" width="17" height="4.300000000000011"/></clipPath>
<g clip-path="url(#cl5)">
<circle cx="467.40" cy="302.10" r="3.4" fill="none" stroke="#6a6a6a" stroke-width="0.8" />
<circle cx="467.40" cy="305.10" r="3.4" fill="none" stroke="#6a6a6a" stroke-width="0.8" />
<circle cx="467.40" cy="307.60" r="3.4" fill="none" stroke="#6a6a6a" stroke-width="0.8" />
<circle cx="467.40" cy="307.60" r="3.4" fill="none" stroke="#6a6a6a" stroke-width="0.8" />
<circle cx="467.40" cy="321.20" r="3.4" fill="none" stroke="#6a6a6a" stroke-width="0.8" />
<circle cx="467.40" cy="325.80" r="3.4" fill="none" stroke="#6a6a6a" stroke-width="0.8" />
</g>
<circle cx="450.40" cy="306.10" r="3.4" fill="none" stroke="#cbcbcb" stroke-width="0.9" />
<circle cx="450.40" cy="309.70" r="3.4" fill="none" stroke="#cbcbcb" stroke-width="0.9" />
<circle cx="450.40" cy="314.20" r="3.4" fill="none" stroke="#cbcbcb" stroke-width="0.9" />
<circle cx="450.40" cy="318.70" r="3.4" fill="none" stroke="#cbcbcb" stroke-width="0.9" />
<circle cx="450.40" cy="324.80" r="3.4" fill="none" stroke="#cbcbcb" stroke-width="0.9" />
<circle cx="450.40" cy="329.80" r="3.4" fill="none" stroke="#cbcbcb" stroke-width="0.9" />
<circle cx="450.40" cy="334.90" r="3.4" fill="none" stroke="#cbcbcb" stroke-width="0.9" />
<text x="458.90" y="352.30" font-size="8.5" text-anchor="middle" font-weight="normal" fill="#000" transform="rotate(-45 458.9 349.5)">0.0</text>
<line x1="507.10" y1="286.90" x2="507.10" y2="275.70" stroke="#444" stroke-width="1" />
<line x1="504.10" y1="275.70" x2="510.10" y2="275.70" stroke="#444" stroke-width="1" />
<rect x="498.60" y="286.90" width="17.00" height="31.60" fill="#fff" stroke="#777" stroke-width="0.8"/>
<line x1="524.10" y1="310.80" x2="524.10" y2="305.30" stroke="#444" stroke-width="1" />
<line x1="521.10" y1="305.30" x2="527.10" y2="305.30" stroke="#444" stroke-width="1" />
<circle cx="524.10" cy="288.80" r="3.5" fill="#a4a4a4" stroke="#9a9a9a" stroke-width="0.6" fill-opacity="0.45" stroke-opacity="0.5"/>
<circle cx="524.10" cy="298.70" r="3.5" fill="#a4a4a4" stroke="#9a9a9a" stroke-width="0.6" fill-opacity="0.45" stroke-opacity="0.5"/>
<circle cx="524.10" cy="298.70" r="3.5" fill="#a4a4a4" stroke="#9a9a9a" stroke-width="0.6" fill-opacity="0.45" stroke-opacity="0.5"/>
<circle cx="524.10" cy="314.10" r="3.5" fill="#a4a4a4" stroke="#9a9a9a" stroke-width="0.6" fill-opacity="0.45" stroke-opacity="0.5"/>
<circle cx="524.10" cy="320.10" r="3.5" fill="#a4a4a4" stroke="#9a9a9a" stroke-width="0.6" fill-opacity="0.45" stroke-opacity="0.5"/>
<circle cx="524.10" cy="323.40" r="3.5" fill="#a4a4a4" stroke="#9a9a9a" stroke-width="0.6" fill-opacity="0.45" stroke-opacity="0.5"/>
<circle cx="524.10" cy="331.10" r="3.5" fill="#a4a4a4" stroke="#9a9a9a" stroke-width="0.6" fill-opacity="0.45" stroke-opacity="0.5"/>
<rect x="515.60" y="310.80" width="17.00" height="7.70" fill="#7a7a7a" stroke="#555" stroke-width="0.8"/>
<clipPath id="cl6"><rect x="515.6" y="310.8" width="17" height="7.699999999999989"/></clipPath>
<g clip-path="url(#cl6)">
<circle cx="524.10" cy="288.80" r="3.4" fill="none" stroke="#6a6a6a" stroke-width="0.8" />
<circle cx="524.10" cy="298.70" r="3.4" fill="none" stroke="#6a6a6a" stroke-width="0.8" />
<circle cx="524.10" cy="298.70" r="3.4" fill="none" stroke="#6a6a6a" stroke-width="0.8" />
<circle cx="524.10" cy="314.10" r="3.4" fill="none" stroke="#6a6a6a" stroke-width="0.8" />
<circle cx="524.10" cy="320.10" r="3.4" fill="none" stroke="#6a6a6a" stroke-width="0.8" />
<circle cx="524.10" cy="323.40" r="3.4" fill="none" stroke="#6a6a6a" stroke-width="0.8" />
<circle cx="524.10" cy="331.10" r="3.4" fill="none" stroke="#6a6a6a" stroke-width="0.8" />
</g>
<circle cx="507.10" cy="235.60" r="3.4" fill="none" stroke="#cbcbcb" stroke-width="0.9" />
<circle cx="507.10" cy="261.90" r="3.4" fill="none" stroke="#cbcbcb" stroke-width="0.9" />
<circle cx="507.10" cy="285.30" r="3.4" fill="none" stroke="#cbcbcb" stroke-width="0.9" />
<circle cx="507.10" cy="302.90" r="3.4" fill="none" stroke="#cbcbcb" stroke-width="0.9" />
<circle cx="507.10" cy="317.30" r="3.4" fill="none" stroke="#cbcbcb" stroke-width="0.9" />
<circle cx="507.10" cy="332.70" r="3.4" fill="none" stroke="#cbcbcb" stroke-width="0.9" />
<text x="516.60" y="352.30" font-size="8.5" text-anchor="middle" font-weight="normal" fill="#000" transform="rotate(-45 516.6 349.5)">5.0</text>
<line x1="564.30" y1="296.80" x2="564.30" y2="290.50" stroke="#444" stroke-width="1" />
<line x1="561.30" y1="290.50" x2="567.30" y2="290.50" stroke="#444" stroke-width="1" />
<rect x="555.80" y="296.80" width="17.00" height="21.70" fill="#fff" stroke="#777" stroke-width="0.8"/>
<line x1="581.30" y1="299.30" x2="581.30" y2="292.00" stroke="#444" stroke-width="1" />
<line x1="578.30" y1="292.00" x2="584.30" y2="292.00" stroke="#444" stroke-width="1" />
<circle cx="581.30" cy="242.50" r="3.5" fill="#a4a4a4" stroke="#9a9a9a" stroke-width="0.6" fill-opacity="0.45" stroke-opacity="0.5"/>
<circle cx="581.30" cy="275.30" r="3.5" fill="#a4a4a4" stroke="#9a9a9a" stroke-width="0.6" fill-opacity="0.45" stroke-opacity="0.5"/>
<circle cx="581.30" cy="292.00" r="3.5" fill="#a4a4a4" stroke="#9a9a9a" stroke-width="0.6" fill-opacity="0.45" stroke-opacity="0.5"/>
<circle cx="581.30" cy="295.20" r="3.5" fill="#a4a4a4" stroke="#9a9a9a" stroke-width="0.6" fill-opacity="0.45" stroke-opacity="0.5"/>
<circle cx="581.30" cy="311.20" r="3.5" fill="#a4a4a4" stroke="#9a9a9a" stroke-width="0.6" fill-opacity="0.45" stroke-opacity="0.5"/>
<circle cx="581.30" cy="319.20" r="3.5" fill="#a4a4a4" stroke="#9a9a9a" stroke-width="0.6" fill-opacity="0.45" stroke-opacity="0.5"/>
<circle cx="581.30" cy="321.50" r="3.5" fill="#a4a4a4" stroke="#9a9a9a" stroke-width="0.6" fill-opacity="0.45" stroke-opacity="0.5"/>
<rect x="572.80" y="299.30" width="17.00" height="19.20" fill="#7a7a7a" stroke="#555" stroke-width="0.8"/>
<clipPath id="cl7"><rect x="572.8" y="299.3" width="17" height="19.19999999999999"/></clipPath>
<g clip-path="url(#cl7)">
<circle cx="581.30" cy="242.50" r="3.4" fill="none" stroke="#6a6a6a" stroke-width="0.8" />
<circle cx="581.30" cy="275.30" r="3.4" fill="none" stroke="#6a6a6a" stroke-width="0.8" />
<circle cx="581.30" cy="292.00" r="3.4" fill="none" stroke="#6a6a6a" stroke-width="0.8" />
<circle cx="581.30" cy="295.20" r="3.4" fill="none" stroke="#6a6a6a" stroke-width="0.8" />
<circle cx="581.30" cy="311.20" r="3.4" fill="none" stroke="#6a6a6a" stroke-width="0.8" />
<circle cx="581.30" cy="319.20" r="3.4" fill="none" stroke="#6a6a6a" stroke-width="0.8" />
<circle cx="581.30" cy="321.50" r="3.4" fill="none" stroke="#6a6a6a" stroke-width="0.8" />
</g>
<circle cx="564.30" cy="277.50" r="3.4" fill="none" stroke="#cbcbcb" stroke-width="0.9" />
<circle cx="564.30" cy="280.70" r="3.4" fill="none" stroke="#cbcbcb" stroke-width="0.9" />
<circle cx="564.30" cy="289.40" r="3.4" fill="none" stroke="#cbcbcb" stroke-width="0.9" />
<circle cx="564.30" cy="293.60" r="3.4" fill="none" stroke="#cbcbcb" stroke-width="0.9" />
<circle cx="564.30" cy="304.80" r="3.4" fill="none" stroke="#cbcbcb" stroke-width="0.9" />
<circle cx="564.30" cy="310.20" r="3.4" fill="none" stroke="#cbcbcb" stroke-width="0.9" />
<circle cx="564.30" cy="323.40" r="3.4" fill="none" stroke="#cbcbcb" stroke-width="0.9" />
<text x="572.80" y="351.10" font-size="8.5" text-anchor="middle" font-weight="normal" fill="#000" transform="rotate(-45 572.8 348.3)">10</text>
<line x1="621.20" y1="308.60" x2="621.20" y2="303.20" stroke="#444" stroke-width="1" />
<line x1="618.20" y1="303.20" x2="624.20" y2="303.20" stroke="#444" stroke-width="1" />
<rect x="612.70" y="308.60" width="17.00" height="9.90" fill="#fff" stroke="#777" stroke-width="0.8"/>
<line x1="638.20" y1="299.30" x2="638.20" y2="296.00" stroke="#444" stroke-width="1" />
<line x1="635.20" y1="296.00" x2="641.20" y2="296.00" stroke="#444" stroke-width="1" />
<circle cx="638.20" cy="280.70" r="3.5" fill="#a4a4a4" stroke="#9a9a9a" stroke-width="0.6" fill-opacity="0.45" stroke-opacity="0.5"/>
<circle cx="638.20" cy="286.20" r="3.5" fill="#a4a4a4" stroke="#9a9a9a" stroke-width="0.6" fill-opacity="0.45" stroke-opacity="0.5"/>
<circle cx="638.20" cy="292.00" r="3.5" fill="#a4a4a4" stroke="#9a9a9a" stroke-width="0.6" fill-opacity="0.45" stroke-opacity="0.5"/>
<circle cx="638.20" cy="297.70" r="3.5" fill="#a4a4a4" stroke="#9a9a9a" stroke-width="0.6" fill-opacity="0.45" stroke-opacity="0.5"/>
<circle cx="638.20" cy="311.20" r="3.5" fill="#a4a4a4" stroke="#9a9a9a" stroke-width="0.6" fill-opacity="0.45" stroke-opacity="0.5"/>
<circle cx="638.20" cy="316.00" r="3.5" fill="#a4a4a4" stroke="#9a9a9a" stroke-width="0.6" fill-opacity="0.45" stroke-opacity="0.5"/>
<rect x="629.70" y="299.30" width="17.00" height="19.20" fill="#7a7a7a" stroke="#555" stroke-width="0.8"/>
<clipPath id="cl8"><rect x="629.7" y="299.3" width="17" height="19.19999999999999"/></clipPath>
<g clip-path="url(#cl8)">
<circle cx="638.20" cy="280.70" r="3.4" fill="none" stroke="#6a6a6a" stroke-width="0.8" />
<circle cx="638.20" cy="286.20" r="3.4" fill="none" stroke="#6a6a6a" stroke-width="0.8" />
<circle cx="638.20" cy="292.00" r="3.4" fill="none" stroke="#6a6a6a" stroke-width="0.8" />
<circle cx="638.20" cy="297.70" r="3.4" fill="none" stroke="#6a6a6a" stroke-width="0.8" />
<circle cx="638.20" cy="311.20" r="3.4" fill="none" stroke="#6a6a6a" stroke-width="0.8" />
<circle cx="638.20" cy="316.00" r="3.4" fill="none" stroke="#6a6a6a" stroke-width="0.8" />
</g>
<circle cx="621.20" cy="283.90" r="3.4" fill="none" stroke="#cbcbcb" stroke-width="0.9" />
<circle cx="621.20" cy="293.60" r="3.4" fill="none" stroke="#cbcbcb" stroke-width="0.9" />
<circle cx="621.20" cy="301.60" r="3.4" fill="none" stroke="#cbcbcb" stroke-width="0.9" />
<circle cx="621.20" cy="309.60" r="3.4" fill="none" stroke="#cbcbcb" stroke-width="0.9" />
<circle cx="621.20" cy="317.60" r="3.4" fill="none" stroke="#cbcbcb" stroke-width="0.9" />
<circle cx="621.20" cy="324.00" r="3.4" fill="none" stroke="#cbcbcb" stroke-width="0.9" />
<circle cx="621.20" cy="328.90" r="3.4" fill="none" stroke="#cbcbcb" stroke-width="0.9" />
<text x="629.70" y="351.80" font-size="8.5" text-anchor="middle" font-weight="normal" fill="#000" transform="rotate(-45 629.7 349.0)">20</text>
<text x="507.90" y="190.50" font-size="10" text-anchor="middle" font-weight="normal" fill="#000" stroke="#000" stroke-width="0.12">a</text>
<text x="565.00" y="190.50" font-size="10" text-anchor="middle" font-weight="normal" fill="#000" stroke="#000" stroke-width="0.12">a</text>
<text x="638.80" y="190.50" font-size="10" text-anchor="middle" font-weight="normal" fill="#000" stroke="#000" stroke-width="0.12">a</text>
<text x="544.30" y="375.80" font-size="10.4" text-anchor="middle" font-weight="normal" fill="#000" >Morphine Dose (g/kg)</text>
<rect x="422.50" y="187.60" width="19.00" height="5.00" fill="#fff" stroke="#8a8a8a" stroke-width="0.8"/>
<rect x="422.50" y="197.60" width="19.00" height="5.00" fill="#7a7a7a" stroke="#555" stroke-width="0.8"/>
<text x="446.00" y="193.30" font-size="8.8" text-anchor="start" font-weight="normal" fill="#000" >Saline</text>
<text x="446.00" y="203.30" font-size="8.8" text-anchor="start" font-weight="normal" fill="#000" >Nicotine</text>
<line x1="43.50" y1="404.50" x2="668.50" y2="404.50" stroke="#a8a8a8" stroke-width="1" />
<line x1="43.50" y1="513.50" x2="668.50" y2="513.50" stroke="#9a9a9a" stroke-width="1" />
<line x1="43.50" y1="404.50" x2="43.50" y2="513.50" stroke="#8e8e8e" stroke-width="1" />
<line x1="200.50" y1="404.50" x2="200.50" y2="513.50" stroke="#8a8a8a" stroke-width="1" />
<line x1="356.50" y1="404.50" x2="356.50" y2="513.50" stroke="#8a8a8a" stroke-width="1" />
<line x1="512.50" y1="404.50" x2="512.50" y2="513.50" stroke="#8a8a8a" stroke-width="1" />
<line x1="668.50" y1="404.50" x2="668.50" y2="513.50" stroke="#b0b0b0" stroke-width="1" />
<line x1="41.50" y1="486.70" x2="43.50" y2="486.70" stroke="#aaa" stroke-width="0.8" />
<line x1="41.50" y1="459.30" x2="43.50" y2="459.30" stroke="#aaa" stroke-width="0.8" />
<line x1="41.50" y1="431.70" x2="43.50" y2="431.70" stroke="#aaa" stroke-width="0.8" />
<line x1="198.50" y1="486.70" x2="200.50" y2="486.70" stroke="#aaa" stroke-width="0.8" />
<line x1="198.50" y1="459.30" x2="200.50" y2="459.30" stroke="#aaa" stroke-width="0.8" />
<line x1="198.50" y1="431.70" x2="200.50" y2="431.70" stroke="#aaa" stroke-width="0.8" />
<line x1="354.50" y1="486.70" x2="356.50" y2="486.70" stroke="#aaa" stroke-width="0.8" />
<line x1="354.50" y1="459.30" x2="356.50" y2="459.30" stroke="#aaa" stroke-width="0.8" />
<line x1="354.50" y1="431.70" x2="356.50" y2="431.70" stroke="#aaa" stroke-width="0.8" />
<line x1="510.50" y1="486.70" x2="512.50" y2="486.70" stroke="#aaa" stroke-width="0.8" />
<line x1="510.50" y1="459.30" x2="512.50" y2="459.30" stroke="#aaa" stroke-width="0.8" />
<line x1="510.50" y1="431.70" x2="512.50" y2="431.70" stroke="#aaa" stroke-width="0.8" />
<line x1="63.20" y1="513.50" x2="63.20" y2="515.50" stroke="#8a8a8a" stroke-width="0.8" />
<text x="63.20" y="527.60" font-size="8.5" text-anchor="middle" font-weight="normal" fill="#000" >1</text>
<line x1="102.20" y1="513.50" x2="102.20" y2="515.50" stroke="#8a8a8a" stroke-width="0.8" />
<text x="102.20" y="527.60" font-size="8.5" text-anchor="middle" font-weight="normal" fill="#000" >2</text>
<line x1="141.40" y1="513.50" x2="141.40" y2="515.50" stroke="#8a8a8a" stroke-width="0.8" />
<text x="141.40" y="527.60" font-size="8.5" text-anchor="middle" font-weight="normal" fill="#000" >3</text>
<line x1="180.40" y1="513.50" x2="180.40" y2="515.50" stroke="#8a8a8a" stroke-width="0.8" />
<text x="180.40" y="527.60" font-size="8.5" text-anchor="middle" font-weight="normal" fill="#000" >4</text>
<text x="121.80" y="543.60" font-size="10.35" text-anchor="middle" font-weight="normal" fill="#000" >Conditioning Day</text>
<text x="123.00" y="419.20" font-size="12.15" text-anchor="middle" font-weight="normal" fill="#000" >0.0 mg/kg Morphine</text>
<line x1="219.20" y1="513.50" x2="219.20" y2="515.50" stroke="#8a8a8a" stroke-width="0.8" />
<text x="219.20" y="527.60" font-size="8.5" text-anchor="middle" font-weight="normal" fill="#000" >1</text>
<line x1="258.60" y1="513.50" x2="258.60" y2="515.50" stroke="#8a8a8a" stroke-width="0.8" />
<text x="258.60" y="527.60" font-size="8.5" text-anchor="middle" font-weight="normal" fill="#000" >2</text>
<line x1="297.60" y1="513.50" x2="297.60" y2="515.50" stroke="#8a8a8a" stroke-width="0.8" />
<text x="297.60" y="527.60" font-size="8.5" text-anchor="middle" font-weight="normal" fill="#000" >3</text>
<line x1="336.80" y1="513.50" x2="336.80" y2="515.50" stroke="#8a8a8a" stroke-width="0.8" />
<text x="336.80" y="527.60" font-size="8.5" text-anchor="middle" font-weight="normal" fill="#000" >4</text>
<text x="279.10" y="543.60" font-size="10.35" text-anchor="middle" font-weight="normal" fill="#000" >Conditioning Day</text>
<text x="275.40" y="419.20" font-size="12.15" text-anchor="middle" font-weight="normal" fill="#000" >5.0 mg/kg Morphine</text>
<line x1="375.90" y1="513.50" x2="375.90" y2="515.50" stroke="#8a8a8a" stroke-width="0.8" />
<text x="375.90" y="527.60" font-size="8.5" text-anchor="middle" font-weight="normal" fill="#000" >1</text>
<line x1="414.90" y1="513.50" x2="414.90" y2="515.50" stroke="#8a8a8a" stroke-width="0.8" />
<text x="414.90" y="527.60" font-size="8.5" text-anchor="middle" font-weight="normal" fill="#000" >2</text>
<line x1="454.30" y1="513.50" x2="454.30" y2="515.50" stroke="#8a8a8a" stroke-width="0.8" />
<text x="454.30" y="527.60" font-size="8.5" text-anchor="middle" font-weight="normal" fill="#000" >3</text>
<line x1="493.50" y1="513.50" x2="493.50" y2="515.50" stroke="#8a8a8a" stroke-width="0.8" />
<text x="493.50" y="527.60" font-size="8.5" text-anchor="middle" font-weight="normal" fill="#000" >4</text>
<text x="434.80" y="543.60" font-size="10.35" text-anchor="middle" font-weight="normal" fill="#000" >Conditioning Day</text>
<text x="431.90" y="419.20" font-size="12.15" text-anchor="middle" font-weight="normal" fill="#000" >10.0 mg/kg Morphine</text>
<line x1="532.50" y1="513.50" x2="532.50" y2="515.50" stroke="#8a8a8a" stroke-width="0.8" />
<text x="532.50" y="527.60" font-size="8.5" text-anchor="middle" font-weight="normal" fill="#000" >1</text>
<line x1="571.20" y1="513.50" x2="571.20" y2="515.50" stroke="#8a8a8a" stroke-width="0.8" />
<text x="571.20" y="527.60" font-size="8.5" text-anchor="middle" font-weight="normal" fill="#000" >2</text>
<line x1="610.40" y1="513.50" x2="610.40" y2="515.50" stroke="#8a8a8a" stroke-width="0.8" />
<text x="610.40" y="527.60" font-size="8.5" text-anchor="middle" font-weight="normal" fill="#000" >3</text>
<line x1="649.60" y1="513.50" x2="649.60" y2="515.50" stroke="#8a8a8a" stroke-width="0.8" />
<text x="649.60" y="527.60" font-size="8.5" text-anchor="middle" font-weight="normal" fill="#000" >4</text>
<text x="591.75" y="543.60" font-size="10.35" text-anchor="middle" font-weight="normal" fill="#000" >Conditioning Day</text>
<text x="591.85" y="419.20" font-size="12.15" text-anchor="middle" font-weight="normal" fill="#000" >20.0 mg/kg Morphine</text>
<text x="37.50" y="489.80" font-size="8.5" text-anchor="end" font-weight="normal" fill="#000" >10000</text>
<text x="37.50" y="462.40" font-size="8.5" text-anchor="end" font-weight="normal" fill="#000" >20000</text>
<text x="37.50" y="434.80" font-size="8.5" text-anchor="end" font-weight="normal" fill="#000" >30000</text>
<text x="37.50" y="407.70" font-size="8.5" text-anchor="end" font-weight="normal" fill="#000" >40000</text>
<text x="8.00" y="459.00" font-size="10.35" text-anchor="middle" font-weight="normal" fill="#000" transform="rotate(-90 8 459)">Distance Travelled (mm)</text>
<text transform="translate(2.5,395.6) scale(0.909,1)" font-size="16.5" font-weight="bold" fill="#000">D</text>
<polyline points="63.20,486.60 102.20,473.60 141.40,479.00 180.40,481.60" fill="none" stroke="#222" stroke-width="0.9"/>
<line x1="63.20" y1="480.60" x2="63.20" y2="486.60" stroke="#333" stroke-width="1.0" />
<line x1="59.90" y1="480.60" x2="66.50" y2="480.60" stroke="#333" stroke-width="1.0" />
<line x1="63.20" y1="486.60" x2="63.20" y2="492.60" stroke="#333" stroke-width="1.0" />
<line x1="59.90" y1="492.60" x2="66.50" y2="492.60" stroke="#333" stroke-width="1.0" />
<line x1="102.20" y1="466.00" x2="102.20" y2="473.60" stroke="#333" stroke-width="1.0" />
<line x1="98.90" y1="466.00" x2="105.50" y2="466.00" stroke="#333" stroke-width="1.0" />
<line x1="102.20" y1="473.60" x2="102.20" y2="481.20" stroke="#333" stroke-width="1.0" />
<line x1="98.90" y1="481.20" x2="105.50" y2="481.20" stroke="#333" stroke-width="1.0" />
<line x1="141.40" y1="471.60" x2="141.40" y2="479.00" stroke="#333" stroke-width="1.0" />
<line x1="138.10" y1="471.60" x2="144.70" y2="471.60" stroke="#333" stroke-width="1.0" />
<line x1="141.40" y1="479.00" x2="141.40" y2="486.40" stroke="#333" stroke-width="1.0" />
<line x1="138.10" y1="486.40" x2="144.70" y2="486.40" stroke="#333" stroke-width="1.0" />
<line x1="180.40" y1="475.50" x2="180.40" y2="481.60" stroke="#333" stroke-width="1.0" />
<line x1="177.10" y1="475.50" x2="183.70" y2="475.50" stroke="#333" stroke-width="1.0" />
<line x1="180.40" y1="481.60" x2="180.40" y2="487.70" stroke="#333" stroke-width="1.0" />
<line x1="177.10" y1="487.70" x2="183.70" y2="487.70" stroke="#333" stroke-width="1.0" />
<circle cx="63.20" cy="486.60" r="3.15" fill="#727272" stroke="#5a5a5a" stroke-width="0.7" />
<circle cx="102.20" cy="473.60" r="3.15" fill="#727272" stroke="#5a5a5a" stroke-width="0.7" />
<circle cx="141.40" cy="479.00" r="3.15" fill="#727272" stroke="#5a5a5a" stroke-width="0.7" />
<circle cx="180.40" cy="481.60" r="3.15" fill="#727272" stroke="#5a5a5a" stroke-width="0.7" />
<polyline points="63.20,488.80 102.20,488.30 141.40,489.00 180.40,490.00" fill="none" stroke="#6a6a6a" stroke-width="1.4"/>
<line x1="63.20" y1="485.20" x2="63.20" y2="488.80" stroke="#222" stroke-width="1.0" />
<line x1="59.90" y1="485.20" x2="66.50" y2="485.20" stroke="#222" stroke-width="1.0" />
<line x1="63.20" y1="488.80" x2="63.20" y2="492.40" stroke="#222" stroke-width="1.0" />
<line x1="59.90" y1="492.40" x2="66.50" y2="492.40" stroke="#222" stroke-width="1.0" />
<line x1="102.20" y1="484.30" x2="102.20" y2="488.30" stroke="#222" stroke-width="1.0" />
<line x1="98.90" y1="484.30" x2="105.50" y2="484.30" stroke="#222" stroke-width="1.0" />
<line x1="102.20" y1="488.30" x2="102.20" y2="492.30" stroke="#222" stroke-width="1.0" />
<line x1="98.90" y1="492.30" x2="105.50" y2="492.30" stroke="#222" stroke-width="1.0" />
<line x1="141.40" y1="486.50" x2="141.40" y2="489.00" stroke="#222" stroke-width="1.0" />
<line x1="138.10" y1="486.50" x2="144.70" y2="486.50" stroke="#222" stroke-width="1.0" />
<line x1="141.40" y1="489.00" x2="141.40" y2="491.50" stroke="#222" stroke-width="1.0" />
<line x1="138.10" y1="491.50" x2="144.70" y2="491.50" stroke="#222" stroke-width="1.0" />
<line x1="180.40" y1="486.40" x2="180.40" y2="490.00" stroke="#222" stroke-width="1.0" />
<line x1="177.10" y1="486.40" x2="183.70" y2="486.40" stroke="#222" stroke-width="1.0" />
<line x1="180.40" y1="490.00" x2="180.40" y2="493.60" stroke="#222" stroke-width="1.0" />
<line x1="177.10" y1="493.60" x2="183.70" y2="493.60" stroke="#222" stroke-width="1.0" />
<circle cx="63.20" cy="488.80" r="3.15" fill="#fff" stroke="#2a2a2a" stroke-width="0.75" />
<circle cx="102.20" cy="488.30" r="3.15" fill="#fff" stroke="#2a2a2a" stroke-width="0.75" />
<circle cx="141.40" cy="489.00" r="3.15" fill="#fff" stroke="#2a2a2a" stroke-width="0.75" />
<circle cx="180.40" cy="490.00" r="3.15" fill="#fff" stroke="#2a2a2a" stroke-width="0.75" />
<polyline points="219.20,489.80 258.60,481.20 297.60,483.60 336.80,477.20" fill="none" stroke="#222" stroke-width="0.9"/>
<line x1="219.20" y1="481.50" x2="219.20" y2="489.80" stroke="#222" stroke-width="1.0" />
<line x1="215.40" y1="481.50" x2="223.00" y2="481.50" stroke="#222" stroke-width="1.0" />
<line x1="258.60" y1="475.60" x2="258.60" y2="481.20" stroke="#222" stroke-width="1.0" />
<line x1="254.80" y1="475.60" x2="262.40" y2="475.60" stroke="#222" stroke-width="1.0" />
<line x1="258.60" y1="481.20" x2="258.60" y2="486.80" stroke="#222" stroke-width="1.0" />
<line x1="254.80" y1="486.80" x2="262.40" y2="486.80" stroke="#222" stroke-width="1.0" />
<line x1="297.60" y1="479.10" x2="297.60" y2="483.60" stroke="#222" stroke-width="1.0" />
<line x1="293.80" y1="479.10" x2="301.40" y2="479.10" stroke="#222" stroke-width="1.0" />
<line x1="297.60" y1="483.60" x2="297.60" y2="488.10" stroke="#222" stroke-width="1.0" />
<line x1="293.80" y1="488.10" x2="301.40" y2="488.10" stroke="#222" stroke-width="1.0" />
<line x1="336.80" y1="469.80" x2="336.80" y2="477.20" stroke="#222" stroke-width="1.0" />
<line x1="333.00" y1="469.80" x2="340.60" y2="469.80" stroke="#222" stroke-width="1.0" />
<line x1="336.80" y1="477.20" x2="336.80" y2="484.60" stroke="#222" stroke-width="1.0" />
<line x1="333.00" y1="484.60" x2="340.60" y2="484.60" stroke="#222" stroke-width="1.0" />
<rect x="216.30" y="486.90" width="5.80" height="5.80" fill="#727272" stroke="#5a5a5a" stroke-width="0.7"/>
<rect x="255.70" y="478.30" width="5.80" height="5.80" fill="#727272" stroke="#5a5a5a" stroke-width="0.7"/>
<rect x="294.70" y="480.70" width="5.80" height="5.80" fill="#727272" stroke="#5a5a5a" stroke-width="0.7"/>
<rect x="333.90" y="474.30" width="5.80" height="5.80" fill="#727272" stroke="#5a5a5a" stroke-width="0.7"/>
<polyline points="219.20,488.10 258.60,481.10 297.60,484.10 336.80,480.70" fill="none" stroke="#222" stroke-width="0.9"/>
<line x1="219.20" y1="484.40" x2="219.20" y2="488.10" stroke="#222" stroke-width="1.0" />
<line x1="215.40" y1="484.40" x2="223.00" y2="484.40" stroke="#222" stroke-width="1.0" />
<line x1="258.60" y1="474.80" x2="258.60" y2="481.10" stroke="#222" stroke-width="1.0" />
<line x1="254.80" y1="474.80" x2="262.40" y2="474.80" stroke="#222" stroke-width="1.0" />
<line x1="258.60" y1="481.10" x2="258.60" y2="487.40" stroke="#222" stroke-width="1.0" />
<line x1="254.80" y1="487.40" x2="262.40" y2="487.40" stroke="#222" stroke-width="1.0" />
<line x1="297.60" y1="477.30" x2="297.60" y2="484.10" stroke="#222" stroke-width="1.0" />
<line x1="293.80" y1="477.30" x2="301.40" y2="477.30" stroke="#222" stroke-width="1.0" />
<line x1="297.60" y1="484.10" x2="297.60" y2="490.90" stroke="#222" stroke-width="1.0" />
<line x1="293.80" y1="490.90" x2="301.40" y2="490.90" stroke="#222" stroke-width="1.0" />
<line x1="336.80" y1="474.00" x2="336.80" y2="480.70" stroke="#222" stroke-width="1.0" />
<line x1="333.00" y1="474.00" x2="340.60" y2="474.00" stroke="#222" stroke-width="1.0" />
<line x1="336.80" y1="480.70" x2="336.80" y2="487.40" stroke="#222" stroke-width="1.0" />
<line x1="333.00" y1="487.40" x2="340.60" y2="487.40" stroke="#222" stroke-width="1.0" />
<circle cx="219.20" cy="488.10" r="3.15" fill="#fff" stroke="#2a2a2a" stroke-width="0.75" />
<circle cx="258.60" cy="481.10" r="3.15" fill="#fff" stroke="#2a2a2a" stroke-width="0.75" />
<circle cx="297.60" cy="484.10" r="3.15" fill="#fff" stroke="#2a2a2a" stroke-width="0.75" />
<circle cx="336.80" cy="480.70" r="3.15" fill="#fff" stroke="#2a2a2a" stroke-width="0.75" />
<polyline points="375.90,476.40 414.90,459.90 454.30,467.00 493.50,475.40" fill="none" stroke="#222" stroke-width="0.9"/>
<line x1="375.90" y1="467.90" x2="375.90" y2="476.40" stroke="#666" stroke-width="1.5" />
<line x1="372.50" y1="467.90" x2="379.30" y2="467.90" stroke="#666" stroke-width="1.5" />
<line x1="375.90" y1="476.40" x2="375.90" y2="484.90" stroke="#666" stroke-width="1.5" />
<line x1="372.50" y1="484.90" x2="379.30" y2="484.90" stroke="#666" stroke-width="1.5" />
<line x1="414.90" y1="442.60" x2="414.90" y2="459.90" stroke="#666" stroke-width="1.5" />
<line x1="411.50" y1="442.60" x2="418.30" y2="442.60" stroke="#666" stroke-width="1.5" />
<line x1="414.90" y1="459.90" x2="414.90" y2="477.20" stroke="#666" stroke-width="1.5" />
<line x1="411.50" y1="477.20" x2="418.30" y2="477.20" stroke="#666" stroke-width="1.5" />
<line x1="454.30" y1="452.00" x2="454.30" y2="467.00" stroke="#666" stroke-width="1.5" />
<line x1="450.90" y1="452.00" x2="457.70" y2="452.00" stroke="#666" stroke-width="1.5" />
<line x1="454.30" y1="467.00" x2="454.30" y2="482.00" stroke="#666" stroke-width="1.5" />
<line x1="450.90" y1="482.00" x2="457.70" y2="482.00" stroke="#666" stroke-width="1.5" />
<line x1="493.50" y1="466.60" x2="493.50" y2="475.40" stroke="#666" stroke-width="1.5" />
<line x1="490.10" y1="466.60" x2="496.90" y2="466.60" stroke="#666" stroke-width="1.5" />
<line x1="493.50" y1="475.40" x2="493.50" y2="484.20" stroke="#666" stroke-width="1.5" />
<line x1="490.10" y1="484.20" x2="496.90" y2="484.20" stroke="#666" stroke-width="1.5" />
<circle cx="375.90" cy="476.40" r="3.15" fill="#727272" stroke="#5a5a5a" stroke-width="0.7" />
<circle cx="414.90" cy="459.90" r="3.15" fill="#727272" stroke="#5a5a5a" stroke-width="0.7" />
<circle cx="454.30" cy="467.00" r="3.15" fill="#727272" stroke="#5a5a5a" stroke-width="0.7" />
<circle cx="493.50" cy="475.40" r="3.15" fill="#727272" stroke="#5a5a5a" stroke-width="0.7" />
<polyline points="375.90,497.30 414.90,495.40 454.30,493.20 493.50,493.60" fill="none" stroke="#222" stroke-width="0.9"/>
<line x1="375.90" y1="494.30" x2="375.90" y2="497.30" stroke="#222" stroke-width="1.0" />
<line x1="372.50" y1="494.30" x2="379.30" y2="494.30" stroke="#222" stroke-width="1.0" />
<line x1="375.90" y1="497.30" x2="375.90" y2="500.30" stroke="#222" stroke-width="1.0" />
<line x1="372.50" y1="500.30" x2="379.30" y2="500.30" stroke="#222" stroke-width="1.0" />
<line x1="414.90" y1="492.40" x2="414.90" y2="495.40" stroke="#222" stroke-width="1.0" />
<line x1="411.50" y1="492.40" x2="418.30" y2="492.40" stroke="#222" stroke-width="1.0" />
<line x1="414.90" y1="495.40" x2="414.90" y2="498.40" stroke="#222" stroke-width="1.0" />
<line x1="411.50" y1="498.40" x2="418.30" y2="498.40" stroke="#222" stroke-width="1.0" />
<line x1="454.30" y1="490.20" x2="454.30" y2="493.20" stroke="#222" stroke-width="1.0" />
<line x1="450.90" y1="490.20" x2="457.70" y2="490.20" stroke="#222" stroke-width="1.0" />
<line x1="454.30" y1="493.20" x2="454.30" y2="496.20" stroke="#222" stroke-width="1.0" />
<line x1="450.90" y1="496.20" x2="457.70" y2="496.20" stroke="#222" stroke-width="1.0" />
<line x1="493.50" y1="490.60" x2="493.50" y2="493.60" stroke="#222" stroke-width="1.0" />
<line x1="490.10" y1="490.60" x2="496.90" y2="490.60" stroke="#222" stroke-width="1.0" />
<line x1="493.50" y1="493.60" x2="493.50" y2="496.60" stroke="#222" stroke-width="1.0" />
<line x1="490.10" y1="496.60" x2="496.90" y2="496.60" stroke="#222" stroke-width="1.0" />
<circle cx="375.90" cy="497.30" r="3.15" fill="#fff" stroke="#2a2a2a" stroke-width="0.75" />
<circle cx="414.90" cy="495.40" r="3.15" fill="#fff" stroke="#2a2a2a" stroke-width="0.75" />
<circle cx="454.30" cy="493.20" r="3.15" fill="#fff" stroke="#2a2a2a" stroke-width="0.75" />
<circle cx="493.50" cy="493.60" r="3.15" fill="#fff" stroke="#2a2a2a" stroke-width="0.75" />
<polyline points="532.50,487.70 571.20,480.80 610.40,482.00 649.60,477.60" fill="none" stroke="#222" stroke-width="0.9"/>
<line x1="532.50" y1="482.90" x2="532.50" y2="487.70" stroke="#333" stroke-width="1.0" />
<line x1="528.70" y1="482.90" x2="536.30" y2="482.90" stroke="#333" stroke-width="1.0" />
<line x1="532.50" y1="487.70" x2="532.50" y2="492.50" stroke="#333" stroke-width="1.0" />
<line x1="528.70" y1="492.50" x2="536.30" y2="492.50" stroke="#333" stroke-width="1.0" />
<line x1="571.20" y1="475.30" x2="571.20" y2="480.80" stroke="#333" stroke-width="1.0" />
<line x1="567.40" y1="475.30" x2="575.00" y2="475.30" stroke="#333" stroke-width="1.0" />
<line x1="571.20" y1="480.80" x2="571.20" y2="486.30" stroke="#333" stroke-width="1.0" />
<line x1="567.40" y1="486.30" x2="575.00" y2="486.30" stroke="#333" stroke-width="1.0" />
<line x1="610.40" y1="476.30" x2="610.40" y2="482.00" stroke="#333" stroke-width="1.0" />
<line x1="606.60" y1="476.30" x2="614.20" y2="476.30" stroke="#333" stroke-width="1.0" />
<line x1="610.40" y1="482.00" x2="610.40" y2="487.70" stroke="#333" stroke-width="1.0" />
<line x1="606.60" y1="487.70" x2="614.20" y2="487.70" stroke="#333" stroke-width="1.0" />
<line x1="649.60" y1="471.50" x2="649.60" y2="477.60" stroke="#333" stroke-width="1.0" />
<line x1="645.80" y1="471.50" x2="653.40" y2="471.50" stroke="#333" stroke-width="1.0" />
<line x1="649.60" y1="477.60" x2="649.60" y2="483.70" stroke="#333" stroke-width="1.0" />
<line x1="645.80" y1="483.70" x2="653.40" y2="483.70" stroke="#333" stroke-width="1.0" />
<circle cx="532.50" cy="487.70" r="3.15" fill="#727272" stroke="#5a5a5a" stroke-width="0.7" />
<circle cx="571.20" cy="480.80" r="3.15" fill="#727272" stroke="#5a5a5a" stroke-width="0.7" />
<circle cx="610.40" cy="482.00" r="3.15" fill="#727272" stroke="#5a5a5a" stroke-width="0.7" />
<circle cx="649.60" cy="477.60" r="3.15" fill="#727272" stroke="#5a5a5a" stroke-width="0.7" />
<polyline points="532.50,500.40 571.20,496.20 610.40,494.80 649.60,496.70" fill="none" stroke="#222" stroke-width="0.9"/>
<line x1="532.50" y1="497.40" x2="532.50" y2="500.40" stroke="#222" stroke-width="1.0" />
<line x1="528.70" y1="497.40" x2="536.30" y2="497.40" stroke="#222" stroke-width="1.0" />
<line x1="532.50" y1="500.40" x2="532.50" y2="503.40" stroke="#222" stroke-width="1.0" />
<line x1="528.70" y1="503.40" x2="536.30" y2="503.40" stroke="#222" stroke-width="1.0" />
<line x1="571.20" y1="493.20" x2="571.20" y2="496.20" stroke="#222" stroke-width="1.0" />
<line x1="567.40" y1="493.20" x2="575.00" y2="493.20" stroke="#222" stroke-width="1.0" />
<line x1="571.20" y1="496.20" x2="571.20" y2="499.20" stroke="#222" stroke-width="1.0" />
<line x1="567.40" y1="499.20" x2="575.00" y2="499.20" stroke="#222" stroke-width="1.0" />
<line x1="610.40" y1="491.60" x2="610.40" y2="494.80" stroke="#222" stroke-width="1.0" />
<line x1="606.60" y1="491.60" x2="614.20" y2="491.60" stroke="#222" stroke-width="1.0" />
<line x1="610.40" y1="494.80" x2="610.40" y2="498.00" stroke="#222" stroke-width="1.0" />
<line x1="606.60" y1="498.00" x2="614.20" y2="498.00" stroke="#222" stroke-width="1.0" />
<line x1="649.60" y1="493.70" x2="649.60" y2="496.70" stroke="#222" stroke-width="1.0" />
<line x1="645.80" y1="493.70" x2="653.40" y2="493.70" stroke="#222" stroke-width="1.0" />
<line x1="649.60" y1="496.70" x2="649.60" y2="499.70" stroke="#222" stroke-width="1.0" />
<line x1="645.80" y1="499.70" x2="653.40" y2="499.70" stroke="#222" stroke-width="1.0" />
<circle cx="532.50" cy="500.40" r="3.15" fill="#fff" stroke="#2a2a2a" stroke-width="0.75" />
<circle cx="571.20" cy="496.20" r="3.15" fill="#fff" stroke="#2a2a2a" stroke-width="0.75" />
<circle cx="610.40" cy="494.80" r="3.15" fill="#fff" stroke="#2a2a2a" stroke-width="0.75" />
<circle cx="649.60" cy="496.70" r="3.15" fill="#fff" stroke="#2a2a2a" stroke-width="0.75" />
<line x1="49.00" y1="431.50" x2="68.80" y2="431.50" stroke="#222" stroke-width="1" />
<circle cx="58.70" cy="431.60" r="3.4" fill="#fff" stroke="#222" stroke-width="0.9" />
<line x1="49.00" y1="439.60" x2="68.80" y2="439.60" stroke="#8a8a8a" stroke-width="1.8" />
<circle cx="59.00" cy="439.70" r="3.6" fill="#767676" stroke="#6a6a6a" stroke-width="0.8" />
<text x="73.50" y="435.20" font-size="8.8" text-anchor="start" font-weight="normal" fill="#000" >Saline</text>
<text x="73.50" y="442.80" font-size="8.8" text-anchor="start" font-weight="normal" fill="#000" >Nicotine</text>
</svg>
</body></html>
